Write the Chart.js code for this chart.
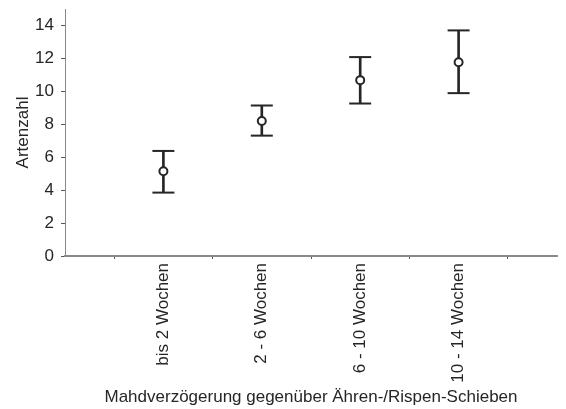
<!DOCTYPE html>
<html>
<head>
<meta charset="utf-8">
<script src="https://cdn.jsdelivr.net/npm/chart.js@4/dist/chart.umd.min.js"></script>
<style>
  html, body { margin: 0; padding: 0; background: #fff; }
  #wrap { width: 566px; height: 409px; }
</style>
</head>
<body>
<div id="wrap"><canvas id="chart"></canvas></div>
<script>
// Categories and values
var categories = ['bis 2 Wochen', '2 - 6 Wochen', '6 - 10 Wochen', '10 - 14 Wochen'];
var means = [5.15, 8.2, 10.68, 11.77];
var upper = [6.38, 9.14, 12.08, 13.7];
var lower = [3.85, 7.31, 9.26, 9.89];
var yTicks = [0, 2, 4, 6, 8, 10, 12, 14];

// empty slot at each end so the points sit between the tick marks
var axisLabels = [''].concat(categories, ['']);

function pts(values) {
    return categories.map(function(c, i) { return { x: c, y: values[i] }; });
}

var ink = '#262626';
var axisGray = '#8a8a8a';
var font = { family: 'Liberation Sans, Arial, sans-serif', size: 17 };

new Chart(document.getElementById('chart'), {
    type: 'bar',
    data: {
        labels: axisLabels,
        datasets: [
            {
                // whiskers
                type: 'bar',
                data: categories.map(function(c, i) { return { x: c, y: [lower[i], upper[i]] }; }),
                backgroundColor: ink,
                barThickness: 2,
                order: 3
            },
            {
                // caps top
                type: 'scatter',
                data: pts(upper),
                pointStyle: 'line',
                pointRadius: 11,
                borderColor: ink,
                borderWidth: 2,
                order: 2
            },
            {
                // caps bottom
                type: 'scatter',
                data: pts(lower),
                pointStyle: 'line',
                pointRadius: 11,
                borderColor: ink,
                borderWidth: 2,
                order: 2
            },
            {
                // means
                type: 'scatter',
                data: pts(means),
                pointStyle: 'circle',
                pointRadius: 4,
                backgroundColor: '#fff',
                borderColor: ink,
                borderWidth: 2,
                order: 1
            }
        ]
    },
    options: {
        responsive: true,
        maintainAspectRatio: false,
        animation: false,
        layout: { autoPadding: false, padding: { top: 9, right: 9, left: 0, bottom: 0 } },
        plugins: {
            legend: { display: false },
            tooltip: { enabled: false }
        },
        scales: {
            x: {
                type: 'category',
                offset: false,
                grid: {
                    offset: true,
                    drawOnChartArea: false,
                    drawTicks: true,
                    tickLength: 3,
                    tickColor: '#555',
                    tickWidth: 1
                },
                border: { color: axisGray, width: 2 },
                ticks: {
                    autoSkip: false,
                    minRotation: 90,
                    maxRotation: 90,
                    padding: 4,
                    color: ink,
                    font: font
                },
                title: {
                    display: true,
                    text: 'Mahdverzögerung gegenüber Ähren-/Rispen-Schieben',
                    color: ink,
                    font: font,
                    padding: { top: 0, bottom: 1 }
                },
                afterFit: function(scale) {
                    scale.height = 153;
                    scale.paddingLeft = 0;
                    scale.paddingRight = 0;
                }
            },
            y: {
                min: 0,
                max: 15,
                grid: {
                    drawOnChartArea: false,
                    drawTicks: true,
                    tickLength: 4,
                    tickColor: '#555'
                },
                border: { color: axisGray, width: 1 },
                afterBuildTicks: function(scale) {
                    scale.ticks = yTicks.map(function(v) { return { value: v }; });
                },
                ticks: {
                    padding: 7,
                    color: ink,
                    font: font
                },
                title: {
                    display: true,
                    text: 'Artenzahl',
                    color: ink,
                    font: font,
                    padding: { top: 13, bottom: 0 }
                },
                afterFit: function(scale) {
                    scale.width = 65;
                    scale.paddingTop = 0;
                    scale.paddingBottom = 0;
                }
            }
        }
    }
});
</script>
</body>
</html>
